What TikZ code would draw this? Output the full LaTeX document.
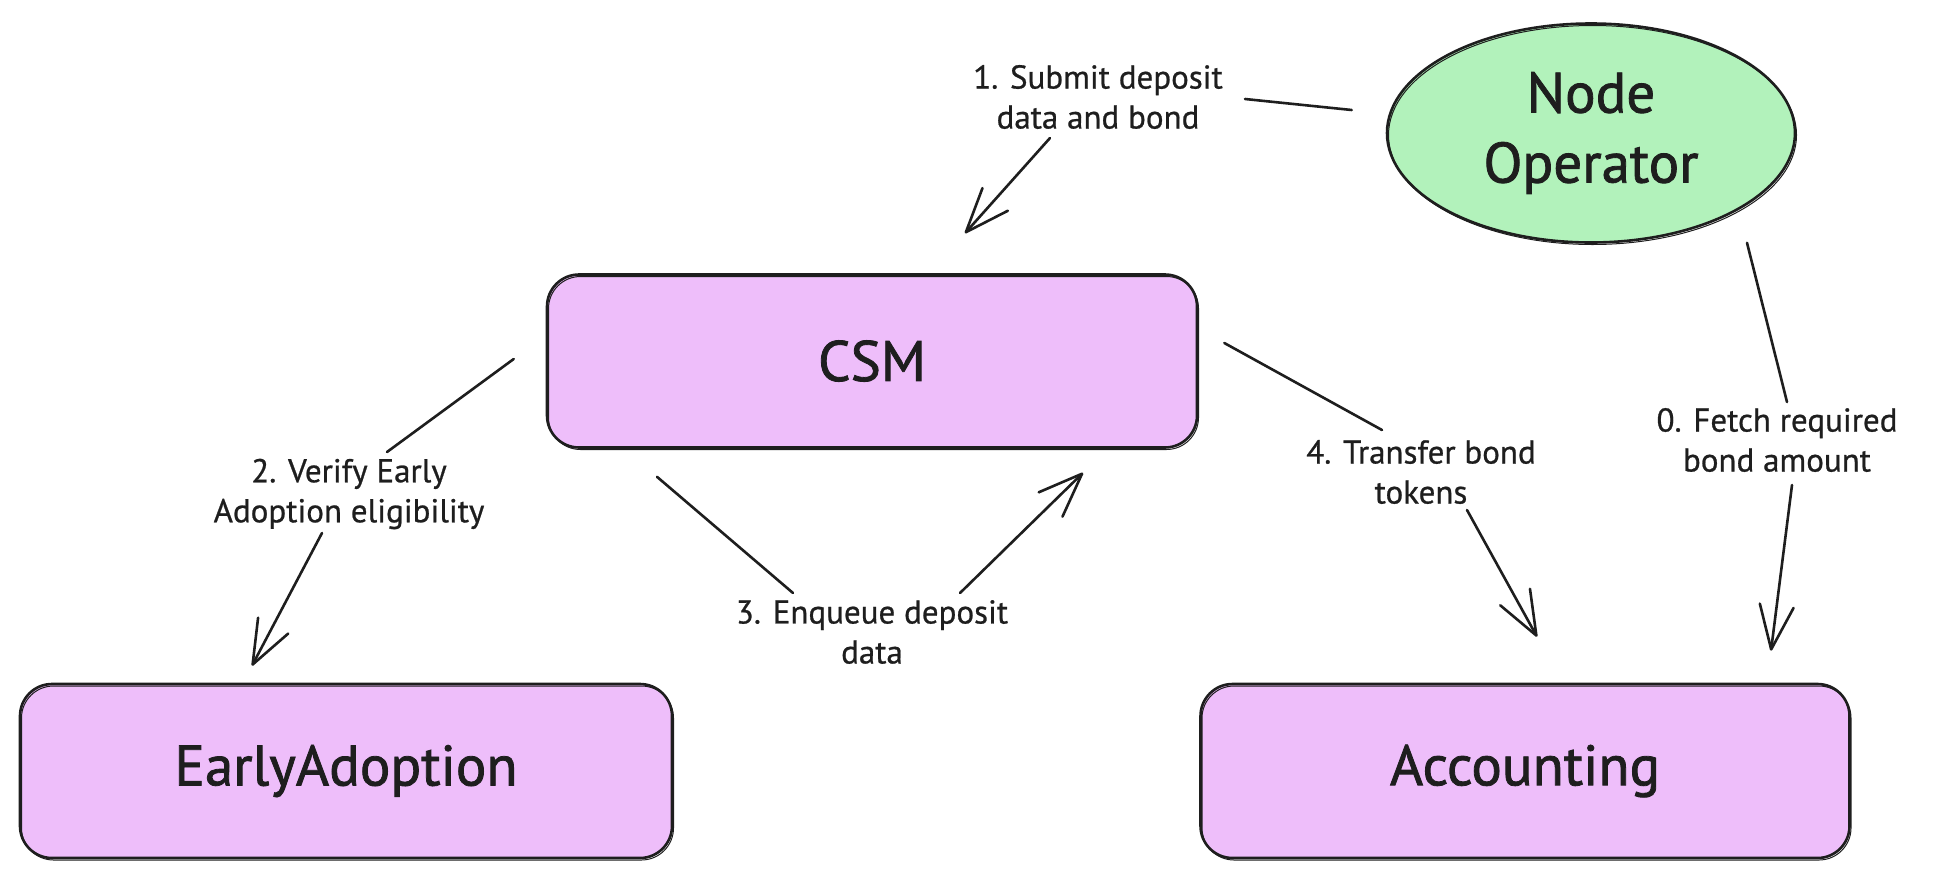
\documentclass[tikz,border=0pt]{standalone}
\usepackage{fontspec}
\setmainfont{PT Sans}
\newfontfamily\boxfont{PT Sans}[FakeBold=1.4]
\newfontfamily\lblfont{PT Sans}[FakeBold=0.7]
\usetikzlibrary{arrows.meta,shapes.geometric}
\definecolor{ink}{HTML}{1E1E1E}
\definecolor{violetfill}{HTML}{EEBEFA}
\definecolor{greenfill}{HTML}{B2F2BB}
\begin{document}
\begin{tikzpicture}[x=1pt,y=-1pt,
  sketch/.style={postaction={draw=ink, line width=1pt, transform canvas={shift={(1.5pt,-2pt)}}}},
  box/.style={draw=ink, fill=violetfill, line width=2.6pt, rounded corners=32pt,
    inner sep=0pt, font=\boxfont\fontsize{57}{70}\selectfont, text=ink, sketch},
  oval/.style={ellipse, draw=ink, fill=greenfill, line width=2.6pt, inner sep=0pt,
    minimum width=408pt, minimum height=219pt, align=center,
    font=\boxfont\fontsize{57}{70}\selectfont, text=ink, sketch},
  lbl/.style={align=center, font=\lblfont\fontsize{33}{40}\selectfont, text=ink, inner sep=0pt},
  conn/.style={draw=ink, line width=2.6pt, line cap=round},
  arr/.style={conn, -{Straight Barb[length=44pt,width=34pt,round]}},
]
\useasboundingbox (0,0) rectangle (1951,879);

% nodes
\node[oval] (no) at (1591,133) {Node\\Operator};
\node[box, minimum width=650pt, minimum height=173pt] (csm) at (872,361) {CSM};
\node[box, minimum width=652pt, minimum height=174pt] (ea) at (346,771) {EarlyAdoption};
\node[box, minimum width=649pt, minimum height=174pt] (acc) at (1525,771) {Accounting};

% labels
\node[lbl] (l1) at (1098,97) {1. Submit deposit\\data and bond};
\node[lbl] (l2) at (349,494) {2. Verify Early\\Adoption eligibility};
\node[lbl] (l3) at (872,632) {3. Enqueue deposit\\data};
\node[lbl] (l4) at (1421,472) {4. Transfer bond\\tokens};
\node[lbl] (l0) at (1777,440) {0. Fetch required\\bond amount};

% connectors
\draw[conn] ([shift={(-34,-23)}]no.west) -- ([shift={(147,2)}]l1.center);
\draw[arr]  ([shift={(-48,41)}]l1.center) -- ([shift={(93,-40)}]csm.north);

\draw[conn] ([shift={(-32,-2)}]csm.west) -- ([shift={(38,-42)}]l2.center);
\draw[arr]  ([shift={(-27,39)}]l2.center) -- ([shift={(-94,-17)}]ea.north);

\draw[conn] ([shift={(-215,28)}]csm.south) -- ([shift={(-79,-39)}]l3.center);
\draw[arr]  ([shift={(88,-39)}]l3.center) -- ([shift={(211,24)}]csm.south);

\draw[conn] ([shift={(26,-18)}]csm.east) -- ([shift={(-39,-42)}]l4.center);
\draw[arr]  ([shift={(46,38)}]l4.center) -- ([shift={(12,-46)}]acc.north);

\draw[conn] ([shift={(156,-1)}]no.south) -- ([shift={(10,-38)}]l0.center);
\draw[arr]  ([shift={(15,45)}]l0.center) -- ([shift={(246,-32)}]acc.north);
\end{tikzpicture}
\end{document}
